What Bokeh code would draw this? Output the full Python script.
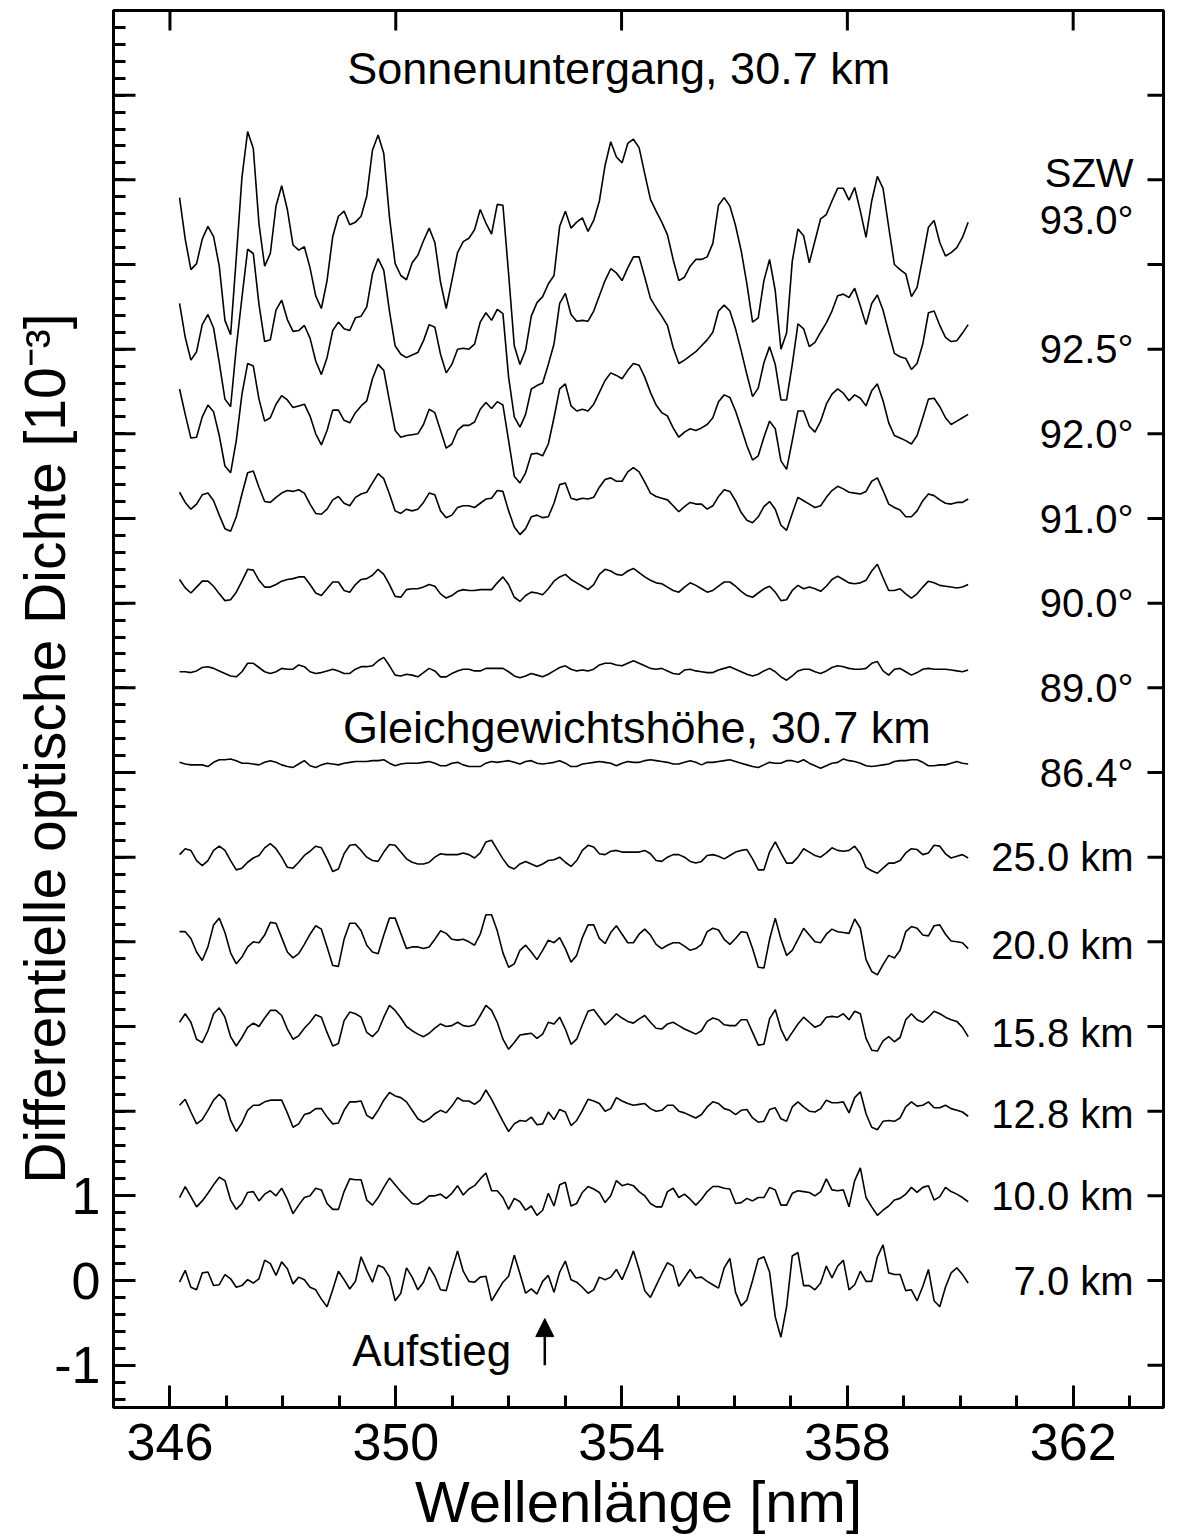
import numpy as np
from bokeh.plotting import figure
from bokeh.models import (Range1d, LinearAxis, FixedTicker, Label, Arrow,
                          NormalHead, ColumnDataSource)
from bokeh.embed import file_html
from bokeh.resources import INLINE
from bokeh.core.properties import value

FONT = "Liberation Sans"

# ---------------- data ----------------
wl_start = 346.17          # nm, first sample
wl_step = 0.1005           # nm, sampling step

series_labels = ["7.0 km", "10.0 km", "12.8 km", "15.8 km", "20.0 km", "25.0 km",
                 "86.4°", "89.0°", "90.0°", "91.0°", "92.0°", "92.5°", "93.0°"]
series_offsets = [0, 1, 2, 3, 4, 5, 6, 7, 8, 9, 10, 11, 12]
label_y = [0.0, 1.0, 1.97, 2.92, 3.96, 5.0, 6.0, 7.0, 8.0, 9.0, 10.0, 11.0, 12.53]

od_7km = [-0.02,0.12,-0.08,-0.11,0.09,0.10,-0.06,-0.05,0.07,0.02,-0.08,-0.06,0.01,-0.03,0.02,0.24,0.20,0.06,0.22,0.14,
          -0.04,0.04,0.01,-0.08,-0.11,-0.22,-0.31,-0.11,0.11,0.01,-0.10,-0.01,0.28,0.12,-0.02,0.18,0.15,0.04,-0.24,-0.15,
          0.15,0.04,-0.11,-0.02,0.16,0.05,-0.11,-0.12,0.13,0.35,0.11,-0.01,-0.02,0.04,0.05,-0.24,-0.13,-0.02,0.05,0.30,
          0.08,-0.15,-0.10,-0.16,-0.01,0.06,-0.14,0.10,0.23,0.01,-0.02,
          -0.08,-0.15,-0.11,0.04,0.01,0.04,0.13,0.01,0.17,0.35,0.13,-0.12,-0.20,-0.06,0.08,0.21,0.17,-0.07,0.03,0.13,
          0.03,0.04,-0.01,-0.05,-0.09,0.15,0.26,-0.14,-0.30,-0.23,0.00,0.25,0.28,0.10,-0.43,-0.67,-0.31,0.29,0.33,-0.06,
          -0.06,-0.11,-0.03,0.17,0.03,0.17,0.24,-0.11,-0.05,0.11,-0.01,-0.01,0.28,0.42,0.09,0.07,0.07,-0.12,-0.11,-0.24,
          -0.07,0.13,-0.24,-0.31,-0.08,0.09,0.15,0.07,-0.03]
od_10km = [-0.02,0.11,-0.01,-0.13,-0.06,0.03,0.13,0.22,0.18,-0.05,-0.16,-0.09,0.04,0.05,-0.06,0.02,0.06,0.00,0.09,-0.04,
           -0.21,-0.11,-0.02,0.00,0.09,0.07,-0.09,-0.16,-0.16,0.05,0.20,0.19,0.19,-0.05,-0.11,-0.02,0.10,0.21,0.13,0.05,
           -0.02,-0.09,-0.10,-0.06,0.00,0.00,0.02,-0.03,0.03,0.12,0.01,0.08,0.12,0.20,0.27,0.06,0.06,-0.02,-0.16,-0.03,
           -0.07,-0.17,-0.12,-0.23,-0.17,0.03,-0.12,0.13,0.16,-0.12,-0.09,
           0.04,0.11,0.08,0.04,-0.08,0.00,0.18,0.12,0.14,0.12,0.05,0.00,-0.09,-0.13,-0.13,0.05,0.09,-0.02,0.02,-0.04,
           -0.11,-0.04,0.05,0.11,0.11,0.09,0.08,-0.09,-0.08,-0.03,-0.06,-0.02,-0.02,0.10,0.07,-0.11,-0.11,0.03,0.06,0.05,
           0.04,0.00,0.05,0.20,0.07,0.06,0.07,-0.13,0.18,0.33,-0.02,-0.13,-0.23,-0.17,-0.12,-0.05,-0.03,0.02,0.10,0.04,
           0.10,0.12,-0.05,-0.01,0.10,0.05,0.02,-0.02,-0.07]
od_12_8km = [0.07,0.14,-0.01,-0.15,-0.10,0.01,0.13,0.20,0.13,-0.11,-0.24,-0.14,0.01,0.07,0.07,0.11,0.13,0.13,0.13,-0.02,
             -0.19,-0.15,-0.04,-0.02,0.03,0.03,-0.07,-0.15,-0.14,0.01,0.11,0.11,0.12,-0.05,-0.09,0.01,0.13,0.22,0.18,0.16,
             0.11,0.01,-0.09,-0.13,-0.09,-0.03,0.01,-0.02,0.06,0.16,0.12,0.12,0.08,0.13,0.25,0.14,0.01,-0.12,-0.24,-0.15,
             -0.11,-0.12,-0.07,-0.16,-0.15,-0.01,-0.10,0.02,-0.01,-0.17,-0.11,
             0.01,0.14,0.12,0.09,0.00,0.03,0.16,0.12,0.09,0.07,0.08,0.09,0.03,0.00,0.01,0.07,0.07,0.00,-0.02,-0.05,
             -0.08,-0.04,0.05,0.11,0.09,0.03,0.01,-0.04,0.01,0.02,-0.08,-0.13,-0.12,0.02,0.04,-0.09,-0.12,0.05,0.11,0.05,
             0.00,-0.01,0.03,0.13,0.10,0.10,0.11,-0.02,0.16,0.23,-0.03,-0.19,-0.22,-0.12,-0.11,-0.12,-0.08,0.05,0.11,0.06,
             0.07,0.11,0.04,0.04,0.07,0.03,0.01,-0.01,-0.06]
od_15_8km = [0.05,0.15,0.05,-0.15,-0.19,-0.05,0.15,0.22,0.11,-0.12,-0.23,-0.13,-0.01,0.04,0.00,0.10,0.19,0.19,0.13,-0.03,
             -0.15,-0.11,-0.02,0.05,0.14,0.11,-0.07,-0.23,-0.20,0.07,0.17,0.15,0.11,-0.07,-0.12,-0.05,0.11,0.25,0.19,0.10,
             0.00,-0.05,-0.09,-0.12,-0.08,-0.02,0.03,0.00,0.01,0.05,0.01,0.00,0.02,0.13,0.25,0.19,0.05,-0.15,-0.27,-0.19,
             -0.10,-0.09,-0.08,-0.14,-0.09,0.05,0.03,0.11,-0.03,-0.21,-0.15,
             0.02,0.18,0.20,0.11,0.02,0.08,0.15,0.10,0.06,0.04,0.09,0.13,0.05,-0.02,-0.03,0.03,0.05,0.01,-0.03,-0.06,
             -0.09,-0.05,0.06,0.10,0.08,0.02,0.01,0.01,0.08,0.08,-0.07,-0.22,-0.21,0.09,0.20,-0.03,-0.17,-0.07,0.03,0.11,
             0.05,-0.01,0.02,0.11,0.12,0.11,0.15,0.08,0.18,0.15,-0.14,-0.28,-0.29,-0.17,-0.12,-0.18,-0.13,0.08,0.15,0.08,
             0.05,0.11,0.18,0.15,0.11,0.08,0.06,-0.01,-0.12]
od_20km = [0.12,0.12,0.04,-0.12,-0.22,-0.06,0.20,0.28,0.11,-0.13,-0.26,-0.18,-0.06,0.00,-0.01,0.08,0.23,0.22,0.05,-0.12,
           -0.19,-0.14,-0.03,0.09,0.19,0.15,-0.06,-0.28,-0.29,0.03,0.22,0.22,0.13,-0.04,-0.12,-0.14,0.08,0.28,0.28,0.10,
           -0.08,-0.06,-0.06,-0.08,-0.06,0.03,0.13,0.10,0.03,0.02,0.03,0.00,-0.04,0.09,0.32,0.32,0.13,-0.13,-0.30,-0.26,
           -0.10,-0.04,-0.12,-0.21,-0.10,0.02,-0.01,0.05,-0.08,-0.24,-0.16,
           0.05,0.20,0.20,0.04,-0.02,0.11,0.19,0.09,-0.01,-0.01,0.09,0.15,0.08,-0.03,-0.08,-0.04,-0.01,-0.01,-0.05,-0.10,
           -0.08,-0.03,0.12,0.16,0.14,0.03,-0.03,0.04,0.12,0.11,-0.08,-0.30,-0.31,0.03,0.28,0.03,-0.16,-0.10,0.03,0.16,
           0.08,0.00,-0.01,0.09,0.15,0.12,0.11,0.10,0.27,0.16,-0.21,-0.35,-0.39,-0.27,-0.16,-0.19,-0.10,0.12,0.18,0.16,
           0.08,0.07,0.19,0.20,0.09,0.01,0.00,-0.01,-0.08]
od_25km = [0.03,0.10,0.08,-0.04,-0.10,-0.04,0.08,0.13,0.08,-0.04,-0.15,-0.13,-0.06,-0.01,0.02,0.11,0.16,0.10,0.00,-0.12,
           -0.13,-0.06,0.02,0.07,0.13,0.11,-0.02,-0.17,-0.14,0.04,0.14,0.15,0.08,0.00,-0.04,-0.05,0.06,0.15,0.14,0.06,
           -0.02,-0.06,-0.08,-0.08,-0.06,0.00,0.04,0.03,0.03,0.03,0.05,0.03,-0.01,0.05,0.18,0.20,0.09,-0.02,-0.11,-0.14,
           -0.08,-0.05,-0.08,-0.11,-0.08,-0.04,-0.03,0.00,-0.06,-0.11,-0.04,
           0.08,0.14,0.12,0.04,0.03,0.07,0.08,0.06,0.06,0.06,0.06,0.08,0.04,-0.04,-0.05,0.00,0.03,0.03,0.00,-0.05,
           -0.07,-0.05,0.02,0.03,0.01,-0.02,0.02,0.06,0.08,0.09,-0.02,-0.15,-0.15,0.06,0.18,0.05,-0.07,-0.07,0.00,0.10,
           0.06,0.02,0.00,0.05,0.11,0.08,0.07,0.08,0.13,0.04,-0.12,-0.16,-0.19,-0.13,-0.07,-0.07,-0.04,0.05,0.10,0.09,
           0.03,0.05,0.14,0.13,0.04,-0.01,0.01,0.03,-0.01]
od_sza864 = [0.12,0.10,0.09,0.09,0.09,0.07,0.12,0.15,0.15,0.16,0.14,0.11,0.11,0.10,0.09,0.12,0.14,0.12,0.09,0.07,
             0.06,0.10,0.14,0.08,0.06,0.09,0.11,0.10,0.09,0.11,0.12,0.13,0.13,0.13,0.14,0.14,0.15,0.11,0.08,0.10,
             0.11,0.11,0.11,0.12,0.13,0.11,0.08,0.08,0.11,0.12,0.09,0.07,0.07,0.07,0.11,0.13,0.12,0.13,0.14,0.12,
             0.10,0.13,0.14,0.11,0.10,0.11,0.12,0.14,0.11,0.07,0.07,
             0.10,0.11,0.12,0.13,0.12,0.11,0.08,0.11,0.13,0.12,0.12,0.14,0.15,0.14,0.13,0.12,0.10,0.10,0.12,0.14,
             0.12,0.09,0.12,0.12,0.13,0.14,0.15,0.13,0.11,0.09,0.07,0.06,0.09,0.12,0.11,0.11,0.14,0.14,0.12,0.15,
             0.11,0.08,0.05,0.08,0.11,0.12,0.16,0.14,0.13,0.11,0.08,0.07,0.08,0.09,0.10,0.13,0.14,0.14,0.15,0.15,
             0.12,0.08,0.08,0.09,0.09,0.11,0.13,0.11,0.10]
od_sza890 = [0.19,0.19,0.18,0.20,0.24,0.25,0.23,0.20,0.17,0.14,0.13,0.19,0.29,0.29,0.24,0.19,0.17,0.19,0.23,0.22,
             0.22,0.27,0.25,0.19,0.17,0.18,0.20,0.22,0.20,0.17,0.17,0.22,0.25,0.25,0.26,0.32,0.36,0.26,0.15,0.14,
             0.16,0.15,0.13,0.18,0.23,0.20,0.13,0.13,0.17,0.20,0.22,0.22,0.20,0.20,0.23,0.23,0.23,0.23,0.19,0.14,
             0.12,0.14,0.17,0.15,0.13,0.16,0.20,0.24,0.26,0.22,0.20,
             0.21,0.20,0.22,0.27,0.29,0.29,0.27,0.26,0.29,0.32,0.29,0.26,0.23,0.22,0.23,0.20,0.17,0.16,0.21,0.22,
             0.20,0.19,0.18,0.18,0.21,0.23,0.25,0.22,0.19,0.16,0.14,0.16,0.20,0.23,0.19,0.13,0.09,0.14,0.20,0.22,
             0.22,0.19,0.17,0.20,0.24,0.26,0.25,0.23,0.22,0.22,0.23,0.29,0.31,0.20,0.15,0.22,0.23,0.19,0.15,0.18,
             0.22,0.23,0.22,0.22,0.22,0.21,0.20,0.19,0.21]
od_sza900 = [0.28,0.18,0.12,0.19,0.26,0.26,0.20,0.11,0.03,0.04,0.13,0.26,0.40,0.39,0.27,0.19,0.19,0.22,0.26,0.28,
             0.29,0.31,0.31,0.22,0.12,0.09,0.17,0.25,0.25,0.15,0.13,0.22,0.28,0.29,0.33,0.40,0.34,0.22,0.08,0.07,
             0.16,0.17,0.17,0.19,0.22,0.20,0.11,0.06,0.09,0.14,0.16,0.15,0.15,0.16,0.16,0.16,0.24,0.31,0.22,0.07,
             0.02,0.09,0.13,0.12,0.10,0.17,0.26,0.31,0.34,0.28,0.24,
             0.20,0.16,0.22,0.34,0.40,0.38,0.34,0.33,0.38,0.41,0.36,0.31,0.27,0.24,0.23,0.19,0.15,0.13,0.19,0.24,
             0.21,0.17,0.13,0.15,0.20,0.25,0.25,0.20,0.14,0.09,0.07,0.12,0.17,0.20,0.13,0.03,0.04,0.15,0.21,0.17,
             0.19,0.17,0.14,0.20,0.28,0.32,0.28,0.24,0.23,0.24,0.27,0.38,0.46,0.30,0.15,0.15,0.17,0.11,0.06,0.11,
             0.19,0.26,0.24,0.21,0.20,0.19,0.18,0.19,0.22]
od_sza910 = [0.31,0.19,0.11,0.17,0.28,0.30,0.21,0.04,-0.12,-0.15,0.02,0.29,0.54,0.56,0.37,0.20,0.19,0.25,0.30,0.33,
             0.32,0.34,0.30,0.17,0.06,0.05,0.11,0.22,0.26,0.18,0.15,0.25,0.29,0.31,0.42,0.53,0.47,0.29,0.09,0.06,
             0.11,0.09,0.11,0.19,0.30,0.28,0.09,0.01,0.04,0.13,0.15,0.15,0.13,0.18,0.23,0.24,0.33,0.32,0.09,-0.10,
             -0.19,-0.12,0.02,0.04,0.01,0.02,0.18,0.40,0.42,0.24,0.22,
             0.24,0.23,0.25,0.37,0.46,0.48,0.44,0.44,0.55,0.60,0.55,0.43,0.30,0.26,0.24,0.22,0.15,0.08,0.14,0.19,
             0.17,0.17,0.11,0.15,0.26,0.34,0.32,0.21,0.07,-0.02,-0.05,0.02,0.14,0.20,0.11,-0.08,-0.14,0.06,0.25,0.21,
             0.17,0.13,0.15,0.25,0.33,0.38,0.35,0.31,0.30,0.29,0.32,0.44,0.48,0.33,0.17,0.13,0.10,0.02,0.02,0.09,
             0.21,0.29,0.27,0.22,0.18,0.17,0.19,0.19,0.23]
od_sza920 = [0.53,0.23,-0.05,-0.04,0.20,0.34,0.26,-0.02,-0.38,-0.46,-0.08,0.47,0.83,0.80,0.41,0.15,0.19,0.35,0.45,0.40,
             0.31,0.33,0.35,0.21,0.00,-0.13,0.04,0.28,0.28,0.16,0.13,0.25,0.33,0.39,0.65,0.82,0.75,0.39,0.04,-0.04,
             -0.02,-0.01,0.00,0.11,0.29,0.25,0.04,-0.17,-0.12,0.04,0.10,0.10,0.14,0.29,0.37,0.30,0.38,0.34,-0.08,-0.50,
             -0.58,-0.46,-0.24,-0.23,-0.26,-0.12,0.19,0.53,0.59,0.33,0.27,
             0.29,0.27,0.35,0.49,0.63,0.72,0.69,0.65,0.75,0.83,0.81,0.67,0.49,0.34,0.25,0.21,0.07,-0.04,0.02,0.06,
             0.04,0.07,0.11,0.19,0.38,0.46,0.43,0.27,0.07,-0.14,-0.31,-0.26,-0.04,0.15,0.06,-0.32,-0.42,-0.08,0.27,0.27,
             0.09,0.02,0.15,0.35,0.47,0.53,0.48,0.39,0.46,0.42,0.33,0.51,0.59,0.39,0.13,-0.02,-0.05,-0.08,-0.12,-0.02,
             0.19,0.41,0.42,0.32,0.19,0.11,0.15,0.19,0.23]
od_sza925 = [0.54,0.14,-0.13,-0.03,0.29,0.41,0.25,-0.16,-0.59,-0.68,0.02,0.61,1.18,1.13,0.53,0.09,0.11,0.46,0.58,0.35,
             0.21,0.22,0.28,0.13,-0.14,-0.30,-0.10,0.22,0.32,0.24,0.22,0.37,0.39,0.50,0.89,1.07,0.93,0.45,0.04,-0.06,
             -0.10,-0.07,-0.04,0.10,0.29,0.26,-0.06,-0.28,-0.18,0.00,0.01,0.00,0.06,0.32,0.43,0.34,0.47,0.42,-0.33,-0.80,
             -0.92,-0.77,-0.47,-0.43,-0.40,-0.18,0.06,0.54,0.66,0.41,0.33,
             0.34,0.33,0.45,0.63,0.81,0.95,0.90,0.81,0.96,1.09,1.09,0.85,0.60,0.49,0.39,0.28,0.02,-0.17,-0.13,-0.08,
             -0.03,0.04,0.11,0.20,0.45,0.52,0.45,0.24,-0.02,-0.30,-0.56,-0.46,-0.16,0.03,-0.18,-0.60,-0.60,-0.18,0.30,0.24,
             0.03,0.08,0.20,0.31,0.45,0.63,0.65,0.61,0.72,0.51,0.29,0.54,0.64,0.46,0.20,-0.05,-0.09,-0.11,-0.24,-0.17,
             0.06,0.43,0.45,0.28,0.14,0.09,0.10,0.19,0.29]
od_sza930 = [0.79,0.30,-0.06,0.01,0.30,0.45,0.33,-0.02,-0.66,-0.83,0.08,1.03,1.57,1.37,0.48,-0.02,0.13,0.69,0.93,0.65,
             0.23,0.17,0.21,-0.04,-0.37,-0.52,-0.19,0.33,0.57,0.63,0.47,0.50,0.57,0.81,1.35,1.53,1.31,0.56,0.01,-0.13,
             -0.18,0.02,0.11,0.28,0.43,0.26,-0.21,-0.52,-0.19,0.14,0.27,0.31,0.41,0.65,0.49,0.36,0.71,0.70,-0.11,-0.96,
             -1.18,-1.01,-0.61,-0.45,-0.38,-0.23,-0.13,0.45,0.63,0.43,0.50,
             0.55,0.39,0.52,0.75,1.17,1.45,1.27,1.20,1.43,1.48,1.38,1.07,0.77,0.63,0.50,0.35,0.06,-0.19,-0.15,-0.02,
             0.06,0.06,0.09,0.25,0.70,0.79,0.69,0.46,0.16,-0.23,-0.68,-0.63,-0.19,0.06,-0.31,-1.00,-0.81,0.04,0.42,0.34,
             0.02,0.28,0.54,0.59,0.75,0.90,0.90,0.76,0.91,0.63,0.32,0.75,1.04,0.90,0.44,0.00,-0.06,-0.11,-0.38,-0.27,
             0.08,0.44,0.52,0.26,0.10,0.14,0.20,0.32,0.50]

series_values = [od_7km, od_10km, od_12_8km, od_15_8km, od_20km, od_25km,
                 od_sza864, od_sza890, od_sza900, od_sza910, od_sza920, od_sza925, od_sza930]

x_major = [346, 350, 354, 358, 362]
y_labelled = [-1, 0, 1]
y_unlabelled = list(range(2, 16))

# ---------------- figure ----------------
X0, X1, Y0, Y1 = 345.0, 363.6, -1.5, 15.0
FRAME_W, FRAME_H = 1050, 1397
p = figure(width=1182, height=1539, output_backend="svg", toolbar_location=None,
           x_range=Range1d(X0, X1), y_range=Range1d(Y0, Y1),
           x_axis_location=None, y_axis_location=None,
           min_border_left=113, min_border_right=19, min_border_top=10, min_border_bottom=132)
p.background_fill_color = "white"
p.border_fill_color = "white"
p.outline_line_color = "black"
p.outline_line_width = 3
p.grid.visible = False

px_x = (X1 - X0) / FRAME_W     # data units per pixel
px_y = (Y1 - Y0) / FRAME_H


def style_axis(ax, tick_in, minor_in, font_px, standoff):
    ax.axis_line_color = "black"
    ax.axis_line_width = 3
    ax.major_tick_in = tick_in
    ax.major_tick_out = 0
    ax.minor_tick_in = minor_in
    ax.minor_tick_out = 0
    ax.major_tick_line_width = 3
    ax.minor_tick_line_width = 3
    ax.major_tick_line_color = "black"
    ax.minor_tick_line_color = "black"
    ax.major_label_text_font = FONT
    ax.major_label_text_font_size = f"{font_px}px"
    ax.major_label_text_color = "black"
    ax.major_label_standoff = standoff
    ax.axis_label_text_font = FONT
    ax.axis_label_text_font_style = "normal"
    ax.axis_label_text_color = "black"


x_minor = [float(v) for v in range(345, 364)]
y_minor = [round(-1.4 + 0.2 * i, 2) for i in range(82)]

bottom = LinearAxis(ticker=FixedTicker(ticks=x_major, minor_ticks=x_minor))
style_axis(bottom, 22, 12, 52, 16)
bottom.axis_label = "Wellenlänge [nm]"
bottom.axis_label_text_font_size = "58px"
bottom.axis_label_standoff = 6
p.add_layout(bottom, "below")

left = LinearAxis(ticker=FixedTicker(ticks=y_labelled, minor_ticks=y_minor))
style_axis(left, 22, 12, 52, 13)
left.major_label_overrides = {-1: "-1", 0: "0", 1: "1"}
# trailing no-break spaces shift the centred, rotated title toward the bottom as in the original
left.axis_label = "Differentielle optische Dichte [10⁻³]" + "\u00a0" * 5
left.axis_label_text_font_size = "57px"
left.axis_label_standoff = -26
p.add_layout(left, "left")

# long (major) ticks that carry no label, and the mirrored ticks on top / right
tick_src_left = ColumnDataSource(dict(x0=[X0] * len(y_unlabelled), x1=[X0 + 22 * px_x] * len(y_unlabelled),
                                      y=y_unlabelled))
p.segment(x0="x0", y0="y", x1="x1", y1="y", source=tick_src_left, line_color="black",
          line_width=3, line_cap="butt")
tick_src_right = ColumnDataSource(dict(x0=[X1] * 17, x1=[X1 - 16 * px_x] * 17, y=list(range(-1, 16))))
p.segment(x0="x0", y0="y", x1="x1", y1="y", source=tick_src_right, line_color="black",
          line_width=3, line_cap="butt")
tick_src_top = ColumnDataSource(dict(x=x_major, y0=[Y1] * len(x_major), y1=[Y1 - 20 * px_y] * len(x_major)))
p.segment(x0="x", y0="y0", x1="x", y1="y1", source=tick_src_top, line_color="black",
          line_width=3, line_cap="butt")

# ---------------- curves ----------------
for vals, off in zip(series_values, series_offsets):
    xs = wl_start + wl_step * np.arange(len(vals))
    ys = np.asarray(vals) + off
    p.line(xs, ys, line_color="black", line_width=1.6)

# right-hand labels
lab_src = ColumnDataSource(dict(x=[363.07] * len(series_labels), y=label_y, t=series_labels))
p.text(x="x", y="y", text="t", source=lab_src, text_align="right", text_baseline="middle",
       text_font=value(FONT), text_font_size="40px", text_color="black")
p.text(x=[363.07], y=[13.08], text=["SZW"], text_align="right", text_baseline="middle",
       text_font=value(FONT), text_font_size="40px", text_color="black")

# annotations
p.add_layout(Label(x=353.95, y=14.31, text="Sonnenuntergang, 30.7 km", text_align="center",
                   text_baseline="middle", text_font=FONT, text_font_size="45px", text_color="black"))
p.add_layout(Label(x=354.27, y=6.53, text="Gleichgewichtshöhe, 30.7 km", text_align="center",
                   text_baseline="middle", text_font=FONT, text_font_size="45px", text_color="black"))
p.add_layout(Label(x=349.23, y=-0.83, text="Aufstieg", text_align="left",
                   text_baseline="middle", text_font=FONT, text_font_size="44px", text_color="black"))
p.add_layout(Arrow(end=NormalHead(size=18, fill_color="black", line_color="black"),
                   x_start=352.64, y_start=-1.0, x_end=352.64, y_end=-0.45,
                   line_color="black", line_width=2.5))

open("out.html", "w").write(file_html(p, INLINE))
